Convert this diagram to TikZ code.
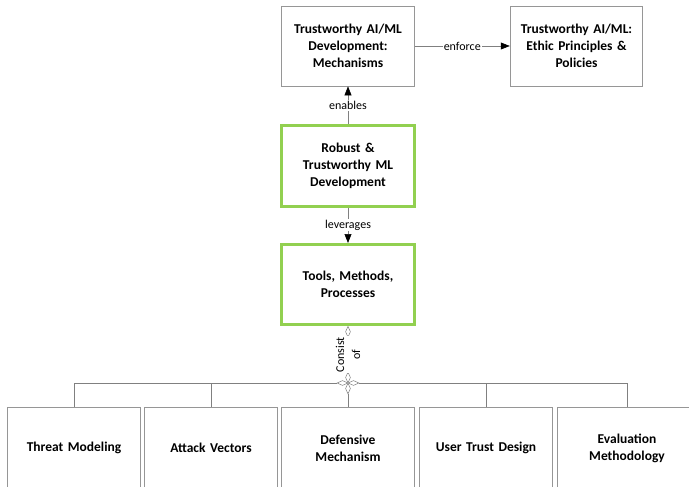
\documentclass[tikz,border=0pt]{standalone}
\usepackage{fontspec}
\setmainfont{Carlito}
\usepackage{xcolor}
\usetikzlibrary{arrows.meta,shapes.geometric,positioning}
\definecolor{boxgray}{RGB}{150,150,150}
\definecolor{linegray}{RGB}{128,128,128}
\definecolor{limegreen}{RGB}{146,208,80}
\tikzset{
  box/.style={draw=boxgray, line width=0.8pt, minimum width=132pt, minimum height=80pt,
    text width=126pt, align=center, font=\fontsize{13.5}{17}\selectfont\bfseries},
  greenbox/.style={box, draw=limegreen, line width=3pt, minimum height=80pt},
  lowbox/.style={box, minimum height=82pt},
  lbl/.style={fill=white, inner sep=1pt, font=\fontsize{12}{13}\selectfont},
  conn/.style={draw=linegray, line width=0.6pt},
  aggv/.style={diamond, draw=linegray, fill=white, line width=0.5pt,
    minimum width=5pt, minimum height=11pt, inner sep=0pt},
  aggh/.style={aggv, minimum width=11pt, minimum height=5pt}
}

\begin{document}
\begin{tikzpicture}[node distance=2cm, on grid, x=1pt, y=-1pt, >={Triangle[length=9pt,width=7pt,color=black]}]
  \useasboundingbox (0,0) rectangle (689,487);
  % top row
  \node[box] (mech) at (348,46) {Trustworthy AI/ML\\ Development:\\ Mechanisms};
  \node[box, right=228.5pt of mech] (ethic) {Trustworthy AI/ML:\\ Ethic Principles \&\\ Policies};
  % green core
  \node[greenbox, below=120pt of mech] (robust) {Robust \&\\ Trustworthy ML\\ Development};
  \node[greenbox, below=118.5pt of robust] (tools) {Tools, Methods,\\ Processes};
  % parts
  \node[lowbox, below=163.5pt of tools] (defense) {Defensive\\ Mechanism};
  \node[lowbox, left=137pt of defense] (attack) {Attack Vectors};
  \node[lowbox, left=137pt of attack] (threat) {Threat Modeling};
  \node[lowbox, right=138pt of defense] (trust) {User Trust Design};
  \node[lowbox, minimum width=140pt, right=279pt of defense] (evalm) {Evaluation\\ Methodology};

  \path[conn, ->]
    (mech) edge node[lbl] {enforce} (ethic)
    (robust) edge node[lbl] {enables} (mech)
    (robust) edge node[lbl] {leverages} (tools)
    ;

  % aggregation
  \node[aggv, below=0pt of tools.south, anchor=north] (aggtop) {};
  \node[aggv] (dup) at (348,377.5) {};
  \node[aggv] (ddown) at (348,388.5) {};
  \node[aggh] (dleft) at (342.5,383) {};
  \node[aggh] (dright) at (353.5,383) {};
  \path[conn]
    (aggtop.south) edge node[lbl, rotate=90, align=center, font=\fontsize{12}{16}\selectfont] {Consist\\ of} (dup.north)
    (ddown.south) edge (defense.north)
    ;
  \draw[conn] (dleft.west) -| (attack.north);
  \draw[conn] (dleft.west) -| (threat.north);
  \draw[conn] (dright.east) -| (trust.north);
  \draw[conn] (dright.east) -| (evalm.north);
\end{tikzpicture}
\end{document}
